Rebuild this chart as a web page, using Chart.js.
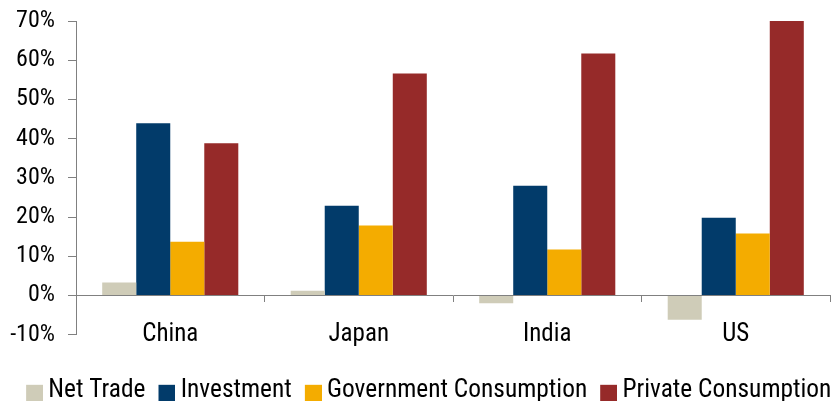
<!DOCTYPE html>
<html><head><meta charset="utf-8">
<script src="https://cdn.jsdelivr.net/npm/chart.js@4/dist/chart.umd.min.js"></script>
<style>html,body{margin:0;padding:0;background:#fff;overflow:hidden}#wrap{width:836px;height:401px}</style>
</head><body><div id="wrap"><canvas id="c" width="836" height="401"></canvas></div>
<script>
const categories = ['China', 'Japan', 'India', 'US'];
const netTrade = [3.3, 1.2, -2.0, -6.2];
const investment = [43.9, 22.9, 28.0, 19.8];
const govConsumption = [13.7, 17.8, 11.7, 15.8];
const privConsumption = [38.8, 56.6, 61.7, 70.1];
const seriesNames = ['Net Trade', 'Investment', 'Government Consumption', 'Private Consumption'];
const seriesColors = ['#CFCCB8', '#023B6A', '#F4AC00', '#962A29'];
const yTicks = { min: -10, max: 70, step: 10 };

const FONT = "'Roboto Condensed', 'Liberation Sans Narrow', sans-serif";
const AXIS = '#808080';

// legend marker: swatch drawn at the right/bottom of a wider transparent canvas
const MW = 16, MARK_W = MW + 15, MARK_H = 20;
function marker(color) {
  const cv = document.createElement('canvas');
  cv.width = MARK_W; cv.height = MARK_H;
  const g = cv.getContext('2d');
  g.fillStyle = color;
  g.fillRect(MARK_W - 17, MARK_H - 16, 17, 16);
  return cv;
}
const markers = seriesColors.map(marker);

const data = {
  labels: categories,
  datasets: [netTrade, investment, govConsumption, privConsumption].map((d, i) => ({
    label: seriesNames[i], data: d, backgroundColor: seriesColors[i], borderWidth: 0,
    barPercentage: 1, categoryPercentage: 0.722
  }))
};

new Chart(document.getElementById('c'), {
  type: 'bar',
  data,
  options: {
    responsive: false, animation: false,
    layout: { padding: { top: 21, left: 0, right: -15, bottom: -12.5 } },
    plugins: {
      tooltip: { enabled: false },
      legend: {
        position: 'bottom',
        labels: {
          font: { family: FONT, size: 25.4 }, color: '#000',
          usePointStyle: true, pointStyleWidth: MW, padding: 22.5 - MW,
          generateLabels(chart) {
            const items = Chart.defaults.plugins.legend.labels.generateLabels(chart);
            items.forEach((it, i) => { it.pointStyle = markers[i]; });
            return items;
          }
        }
      }
    },
    scales: {
      x: {
        position: 'bottom',
        grid: { display: false }, border: { display: false },
        ticks: { display: false },
        afterFit(s) { s.height = 37; }
      },
      x0: {
        type: 'category', position: { y: 0 }, offset: true,
        grid: { offset: true, drawOnChartArea: false, tickLength: 6, color: AXIS, lineWidth: 1 },
        border: { color: AXIS, width: 1 },
        ticks: { font: { family: FONT, size: 25 }, color: '#000', padding: 18.5, maxRotation: 0 }
      },
      y: {
        min: yTicks.min, max: yTicks.max,
        grid: { drawOnChartArea: false, tickLength: 8, color: AXIS },
        border: { color: AXIS, width: 1 },
        ticks: { stepSize: yTicks.step, font: { family: FONT, size: 24 }, color: '#000', padding: 13,
                 callback: v => v + '%' },
        afterFit(s) { s.width = 76; s.paddingTop = 0; s.paddingBottom = 0; }
      },
      yR: {
        type: 'linear', position: 'right', display: true,
        grid: { display: false }, border: { display: false }, ticks: { display: false },
        afterFit(s) { s.width = 21; }
      }
    }
  }
});
</script>
</body></html>
